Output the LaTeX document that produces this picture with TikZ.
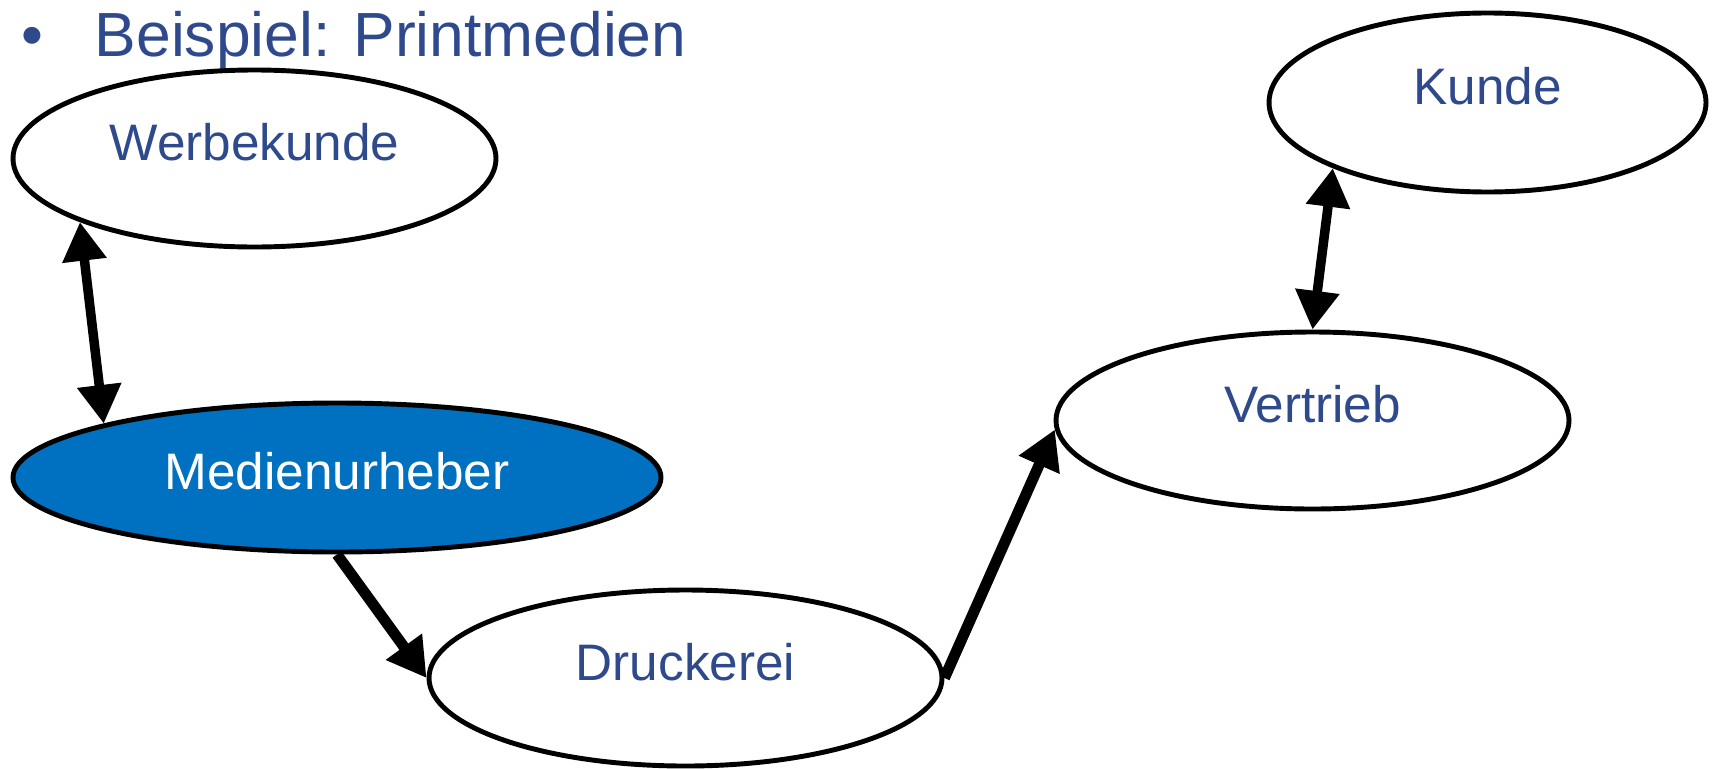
\documentclass[tikz,border=0pt]{standalone}
\usepackage{fontspec}
\setmainfont{Liberation Sans}
\usetikzlibrary{arrows.meta,shapes.geometric}
\definecolor{textblue}{RGB}{46,74,140}
\definecolor{mediablue}{RGB}{0,112,192}
\tikzset{%
  >={Triangle[width=12pt,length=11pt]},
  % Specifications for style of nodes:
        actor/.style = {ellipse, draw=black, line width=1.4pt, fill=white,
                        inner sep=0pt, text=textblue,
                        text height=0.38cm, text depth=0.34cm,
                        font=\fontsize{14.6pt}{17pt}\selectfont},
    mainactor/.style = {actor, fill=mediablue, text=white,
                        text depth=0.15cm},
        title/.style = {inner sep=0pt, text=textblue,
                        font=\fontsize{17.75pt}{21pt}\selectfont},
  % Specifications for style of connectors:
         link/.style = {<->, line width=2.7pt},
         flow/.style = {->, line width=3.1pt},
}

\begin{document}
\begin{tikzpicture}
\useasboundingbox (0,0) rectangle (17.13,-7.68);

\node (Bullet) [title, anchor=base] at (0.32,-0.56) {\textbullet};
\node (Title)  [title, anchor=base west] at (0.94,-0.56) {Beispiel: Printmedien};

\node (WK) [actor, minimum width=4.83cm, minimum height=1.77cm] at (2.545,-1.585) {Werbekunde};

\node (KD) [actor, minimum width=4.37cm, minimum height=1.79cm] at (14.875,-1.025) {Kunde};

\node (MU) [mainactor, minimum width=6.48cm, minimum height=1.49cm] at (3.37,-4.775) {Medienurheber};

\node (DR) [actor, minimum width=5.13cm, minimum height=1.76cm] at (6.855,-6.78) {Druckerei};

\node (VT) [actor, minimum width=5.13cm, minimum height=1.77cm] at (13.125,-4.205) {Vertrieb};

\draw[link]           (WK.200) -- (MU.167);
\draw[flow]           (MU.south) -- (DR.west);
\draw[flow]           (DR.east) -- (VT.182);
\draw[link]           (KD.203) -- (VT.north);
\end{tikzpicture}
\end{document}
